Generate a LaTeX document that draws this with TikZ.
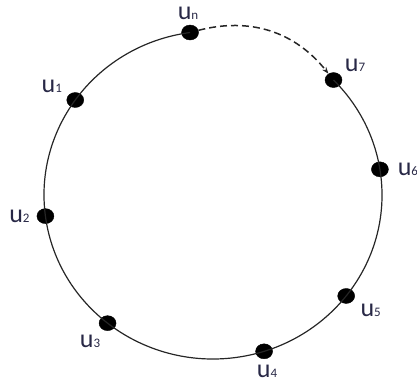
\documentclass[tikz,border=0pt]{standalone}
\usepackage{fontspec}
\setmainfont{Carlito}
\usetikzlibrary{shapes.geometric, arrows.meta, positioning, calc}
\definecolor{lbltext}{RGB}{40,40,70}
\tikzstyle{vtx} = [ellipse, fill=black, draw=black, minimum width=17pt, minimum height=15pt, inner sep=0pt]
\tikzstyle{lbl} = [inner sep=1pt, text=lbltext, font=\fontsize{26}{26}\selectfont]
\tikzstyle{ring} = [line width=1.2pt, draw=black!85]
\tikzstyle{hop} = [line width=1.5pt, draw=black!85, dash pattern=on 7pt off 4pt, -{Stealth[length=7pt, width=5pt]}]
\newcommand{\vname}[1]{u{\fontsize{13}{13}\selectfont #1}}

\begin{document}
\begin{tikzpicture}[x=1pt, y=1pt]
    \useasboundingbox (0,0) rectangle (417,385);
    \coordinate (o) at (213,190);

    % vertices on the ring
    \node (un) [vtx] at ($(o)+(97.8:169pt and 164pt)$) {};
    \node (u7) [vtx] at ($(o)+(44.5:169pt and 164pt)$) {};
    \node (u6) [vtx] at ($(o)+(9:169pt and 164pt)$) {};
    \node (u5) [vtx] at ($(o)+(322:169pt and 164pt)$) {};
    \node (u4) [vtx] at ($(o)+(287.6:169pt and 164pt)$) {};
    \node (u3) [vtx] at ($(o)+(231.4:169pt and 164pt)$) {};
    \node (u2) [vtx] at ($(o)+(187.4:169pt and 164pt)$) {};
    \node (u1) [vtx] at ($(o)+(144.6:169pt and 164pt)$) {};

    \draw[ring] (un.center) arc[start angle=97.8, end angle=404.5, x radius=169pt, y radius=164pt];
    \draw[hop] (un) to[bend left=33] (u7);

    % labels
    \node (lun) [lbl, above=4pt of un, xshift=-2pt] {\vname{n}};
    \node (lu7) [lbl, above right=2pt and 4pt of u7] {\vname{7}};
    \node (lu6) [lbl, right=8pt of u6] {\vname{6}};
    \node (lu5) [lbl, below right=1pt and 7pt of u5] {\vname{5}};
    \node (lu4) [lbl, below=5pt of u4, xshift=3pt] {\vname{4}};
    \node (lu3) [lbl, below left=5pt and 0pt of u3] {\vname{3}};
    \node (lu2) [lbl, left=6pt of u2] {\vname{2}};
    \node (lu1) [lbl, above left=1pt and 6pt of u1] {\vname{1}};
\end{tikzpicture}
\end{document}
